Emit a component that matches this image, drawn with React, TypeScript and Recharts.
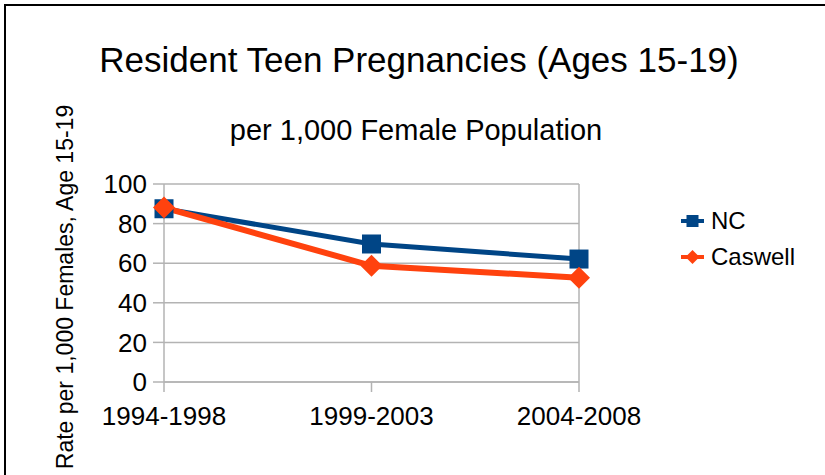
import { LineChart, Line, XAxis, YAxis, CartesianGrid, ReferenceLine } from 'recharts'

const PERIODS = ['1994-1998', '1999-2003', '2004-2008']
const NC = [87.5, 69.7, 62.1]
const CASWELL = [88.1, 58.7, 52.7]
const Y_TICKS = [0, 20, 40, 60, 80, 100]
const SERIES = ['NC', 'Caswell']

const data = PERIODS.map((p, i) => ({ period: p, NC: NC[i], Caswell: CASWELL[i] }))

const FONT = '"Liberation Sans", Arial, sans-serif'
const GRID = '#b3b3b3'
const COLORS: Record<string, string> = { NC: '#004586', Caswell: '#ff420e' }

const SquareDot = (props: any) => {
  const { cx, cy } = props
  if (cx == null || cy == null) return null
  return <rect x={cx - 9.5} y={cy - 9.5} width={19} height={19} fill={COLORS.NC} />
}

const DiamondDot = (props: any) => {
  const { cx, cy } = props
  if (cx == null || cy == null) return null
  const r = 11
  return <polygon points={`${cx},${cy - r} ${cx + r},${cy} ${cx},${cy + r} ${cx - r},${cy}`} fill={COLORS.Caswell} />
}

const ChartLegend = () => (
  <div style={{ position: 'absolute', left: 680, top: 203, fontFamily: FONT, fontSize: 24, color: '#000' }}>
    {SERIES.map((name) => (
      <div key={name} style={{ display: 'flex', alignItems: 'center', height: 36 }}>
        <svg width={30} height={20} style={{ marginRight: 1 }}>
          <line x1={1} y1={10} x2={24} y2={10} stroke={COLORS[name]} strokeWidth={4} />
          {name === 'NC'
            ? <rect x={6.5} y={4} width={12} height={12} fill={COLORS.NC} />
            : <polygon points="12.5,3 19.5,10 12.5,17 5.5,10" fill={COLORS.Caswell} />}
        </svg>
        <span>{name}</span>
      </div>
    ))}
  </div>
)

export default function App() {
  return (
    <div style={{ position: 'fixed', left: 0, top: 0, width: 825, height: 475, overflow: 'hidden', background: '#fff' }}>
      <div style={{ position: 'absolute', left: 4, top: 4, width: 900, height: 600, border: '2px solid #000' }} />
      <div style={{ position: 'absolute', left: 0, top: 0 }}>
        <LineChart width={825} height={475} data={data}
          margin={{ top: 184, right: 246, bottom: 63, left: 104 }}>
          <CartesianGrid horizontal vertical={false} stroke={GRID} strokeWidth={1.5} />
          <XAxis dataKey="period" height={30} axisLine={{ stroke: GRID, strokeWidth: 1.5 }}
            tickLine={{ stroke: GRID, strokeWidth: 1.5 }} tickSize={10} tickMargin={15}
            tick={{ fill: '#000', fontSize: 26, fontFamily: FONT }} interval={0} />
          <YAxis domain={[0, 100]} ticks={Y_TICKS} width={60} axisLine={{ stroke: GRID, strokeWidth: 1.5 }}
            tickLine={{ stroke: GRID, strokeWidth: 1.5 }} tickSize={11} tickMargin={6}
            tick={{ fill: '#000', fontSize: 26, fontFamily: FONT }} />
          <ReferenceLine x="2004-2008" stroke={GRID} strokeWidth={1.5} />
          <Line dataKey="NC" name="NC" stroke={COLORS.NC} strokeWidth={5} dot={<SquareDot />}
            activeDot={false} isAnimationActive={false} />
          <Line dataKey="Caswell" name="Caswell" stroke={COLORS.Caswell} strokeWidth={6} dot={<DiamondDot />}
            activeDot={false} isAnimationActive={false} />
        </LineChart>
      </div>
      <ChartLegend />
      <svg width={825} height={475} style={{ position: 'absolute', left: 0, top: 0, pointerEvents: 'none' }}>
        <text x={419} y={72} textAnchor="middle" fontFamily={FONT} fontSize={35} fill="#000">
          Resident Teen Pregnancies (Ages 15-19)
        </text>
        <text x={416} y={140} textAnchor="middle" fontFamily={FONT} fontSize={29} fill="#000">
          per 1,000 Female Population
        </text>
        <text x={73} y={287} textAnchor="middle" fontFamily={FONT} fontSize={23} fill="#000"
          transform="rotate(-90 73 287)">
          Rate per 1,000 Females,  Age 15-19
        </text>
      </svg>
    </div>
  )
}
